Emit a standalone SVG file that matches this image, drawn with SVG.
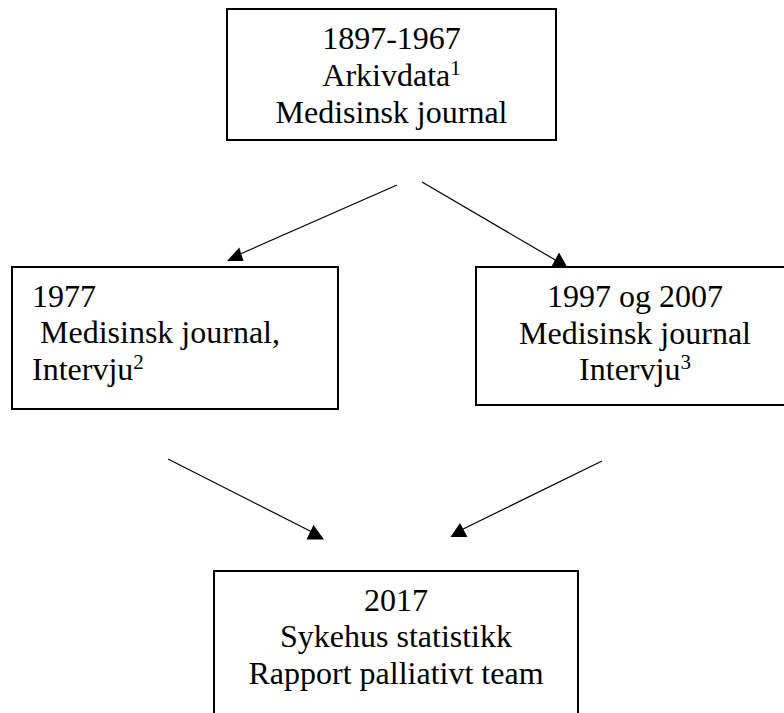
<svg xmlns="http://www.w3.org/2000/svg" width="784" height="713" viewBox="0 0 784 713">
<style>
.box{fill:#fff;stroke:#000;stroke-width:2}
.t{font-family:"Liberation Serif","Times New Roman",serif;font-size:32px;fill:#000}
.c{text-anchor:middle}
.sup{font-size:21px}
.ln{stroke:#000;stroke-width:1.2;fill:none}
.ah{fill:#000;stroke:none}
</style>
<rect width="784" height="713" fill="#fff"/>
<g id="connectors">
<line class="ln" x1="397" y1="185" x2="238" y2="255"/>
<polygon class="ah" points="227,261 243.5,261 239.3,247.5"/>
<line class="ln" x1="422" y1="182" x2="557" y2="261"/>
<polygon class="ah" points="551.5,266.5 567,266.5 559,252.5"/>
<line class="ln" x1="168" y1="459" x2="314" y2="533"/>
<polygon class="ah" points="306.5,539.5 324,539.5 313.5,525"/>
<line class="ln" x1="602" y1="461" x2="457" y2="532"/>
<polygon class="ah" points="450.5,537 467.5,537 460,523"/>
</g>
<g id="node-top">
<rect class="box" x="227" y="9" width="329" height="131"/>
<text class="t c" x="391.5" y="49">1897-1967</text>
<text class="t c" x="391.5" y="86">Arkivdata<tspan class="sup" dy="-11">1</tspan></text>
<text class="t c" x="391.5" y="123">Medisinsk journal</text>
</g>
<g id="node-1977">
<rect class="box" x="12" y="267" width="326" height="142"/>
<text class="t" x="32" y="307">1977</text>
<text class="t" x="40" y="343">Medisinsk journal,</text>
<text class="t" x="32" y="380">Intervju<tspan class="sup" dy="-11">2</tspan></text>
</g>
<g id="node-1997">
<rect class="box" x="476" y="267" width="320" height="138"/>
<text class="t c" x="635" y="307">1997 og 2007</text>
<text class="t c" x="635" y="344">Medisinsk journal</text>
<text class="t c" x="635" y="380">Intervju<tspan class="sup" dy="-11">3</tspan></text>
</g>
<g id="node-2017">
<rect class="box" x="214" y="571" width="364" height="160"/>
<text class="t c" x="396" y="611">2017</text>
<text class="t c" x="396" y="647">Sykehus statistikk</text>
<text class="t c" x="396" y="684">Rapport palliativt team</text>
</g>
</svg>
